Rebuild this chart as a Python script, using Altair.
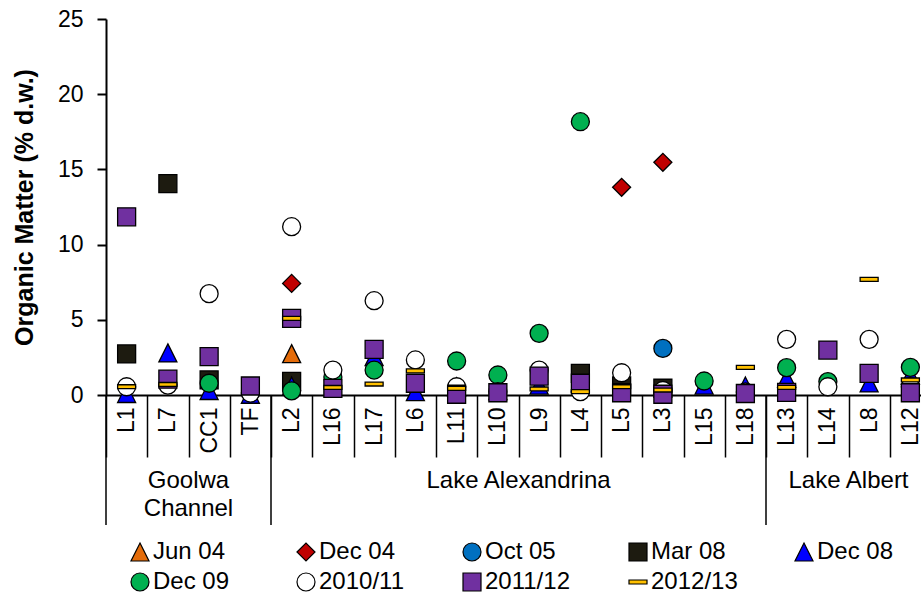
import altair as alt
import pandas as pd

FONT = "Liberation Sans"

sites = ["L1", "L7", "CC1", "TF", "L2", "L16", "L17", "L6", "L11", "L10",
         "L9", "L4", "L5", "L3", "L15", "L18", "L13", "L14", "L8", "L12"]

surveys = ["Jun 04", "Dec 04", "Oct 05", "Mar 08", "Dec 08",
           "Dec 09", "2010/11", "2011/12", "2012/13"]

# Organic matter (% dry weight) by survey and site
jun04 = {"L2": 2.75}
dec04 = {"L2": 7.42, "L5": 13.81, "L3": 15.47}
oct05 = {"L3": 3.1}
mar08 = {"L1": 2.73, "L7": 14.05, "CC1": 1.0, "L2": 0.9, "L4": 1.44,
         "L5": 0.6, "L3": 0.45}
dec08 = {"L1": 0.1, "L7": 2.8, "CC1": 0.3, "TF": 0.05, "L2": 0.6,
         "L17": 2.55, "L6": 0.22, "L11": 0.55, "L10": 0.3, "L9": 0.66,
         "L15": 0.66, "L18": 0.6, "L13": 1.1, "L8": 0.8, "L12": 1.3}
dec09 = {"CC1": 0.78, "L2": 0.27, "L16": 1.2, "L17": 1.66, "L11": 2.26,
         "L10": 1.33, "L9": 4.1, "L4": 18.17, "L15": 0.93, "L13": 1.82,
         "L14": 0.89, "L12": 1.84}
y2010 = {"L1": 0.55, "L7": 0.66, "CC1": 6.74, "TF": 0.13, "L2": 11.19,
         "L16": 1.66, "L17": 6.27, "L6": 2.33, "L11": 0.55, "L10": 0.22,
         "L9": 1.66, "L4": 0.22, "L5": 1.48, "L3": 0.3, "L18": 0.2,
         "L13": 3.7, "L14": 0.55, "L8": 3.7, "L12": 0.55}
y2011 = {"L1": 11.85, "L7": 1.05, "CC1": 2.55, "TF": 0.6, "L2": 5.1,
         "L16": 0.44, "L17": 3.04, "L6": 0.78, "L11": 0.05, "L10": 0.15,
         "L9": 1.26, "L4": 0.78, "L5": 0.15, "L3": 0.05, "L18": 0.1,
         "L13": 0.18, "L14": 2.99, "L8": 1.44, "L12": 0.15}
y2012 = {"L1": 0.55, "L7": 0.7, "L2": 5.1, "L16": 0.5, "L17": 0.73,
         "L6": 1.6, "L11": 0.44, "L9": 0.4, "L4": 0.22, "L5": 0.55,
         "L3": 0.33, "L18": 1.84, "L13": 0.51, "L8": 7.69, "L12": 1.0}

series = [jun04, dec04, oct05, mar08, dec08, dec09, y2010, y2011, y2012]

fills = ["#E46C0A", "#C00000", "#0070C0", "#1D1B10", "#0000FF",
         "#00B050", "#FFFFFF", "#7030A0", "#FFC000"]
TRIANGLE = "M0,-1L1,1L-1,1Z"
DASH = "M-1,-0.22L1,-0.22L1,0.22L-1,0.22Z"
shapes = [TRIANGLE, "diamond", "circle", "square", TRIANGLE,
          "circle", "circle", "square", DASH]
sizes = [324, 324, 196, 196, 324, 196, 324, 196, 324]

# Site groupings shown beneath the category labels
group_names = ["Goolwa\nChannel", "Lake Alexandrina", "Lake Albert"]
group_starts = ["L1", "L2", "L13"]
group_centres = ["CC1", "L9", "L8"]

rows = []
k = 0
for name, values in zip(surveys, series):
    for site in sites:
        if site in values:
            rows.append({"site": site, "survey": name, "om": values[site], "k": k})
            k += 1
points_df = pd.DataFrame(rows)

x_scale = alt.Scale(domain=sites, range=[0, 825], paddingInner=0, paddingOuter=0)
y_scale = alt.Scale(domain=[0, 25], nice=False)

x_axis = alt.Axis(labelAngle=270, labelAlign="right", labelBaseline="middle",
                  labelFontSize=23, labelFont=FONT, labelColor="black",
                  labelPadding=-50, tickBand="extent", tickSize=62,
                  tickWidth=1.5, tickColor="black", domainWidth=2,
                  domainColor="black", grid=False)

survey_legend = alt.Legend(
    title=None, orient="none", legendX=22, legendY=521, columns=5,
    direction="horizontal", symbolSize=130, symbolStrokeColor="black",
    symbolStrokeWidth=1.2, labelFont=FONT, labelFontSize=24, labelColor="black",
    labelOffset=1, columnPadding=54, rowPadding=6, gridAlign="all", padding=0,
)

points = alt.Chart(points_df).transform_calculate(
    marker="datum.survey"
).mark_point(
    filled=True, opacity=1, stroke="black", strokeWidth=1.3
).encode(
    x=alt.X("site:N", scale=x_scale, sort=sites, title=None, axis=x_axis),
    y=alt.Y("om:Q", scale=y_scale,
            axis=alt.Axis(values=[0, 5, 10, 15, 20, 25], tickSize=9, tickWidth=2,
                          tickColor="black", domainWidth=2, domainColor="black",
                          labelFontSize=23, labelFont=FONT, labelColor="black",
                          labelPadding=14, grid=False,
                          title="Organic Matter (% d.w.)", titleFontSize=25,
                          titleFont=FONT, titleFontWeight="bold", titleColor="black",
                          titleAngle=270, titleAlign="center", titleBaseline="middle",
                          titleX=-82, titleY=188)),
    color=alt.Color("survey:N", scale=alt.Scale(domain=surveys, range=fills),
                    legend=survey_legend),
    shape=alt.Shape("survey:N", scale=alt.Scale(domain=surveys, range=shapes),
                    legend=survey_legend),
    size=alt.Size("marker:N", scale=alt.Scale(domain=surveys, range=sizes), legend=None),
    order=alt.Order("k:Q"),
)

dividers = alt.Chart(pd.DataFrame({"site": group_starts})).mark_rule(
    color="black", strokeWidth=1.5
).encode(
    x=alt.X("site:N", bandPosition=0, scale=x_scale, sort=sites, title=None, axis=x_axis),
    y=alt.value(376),
    y2=alt.value(506),
)

group_labels = alt.Chart(pd.DataFrame({"site": group_centres, "name": group_names})).mark_text(
    font=FONT, fontSize=24, color="black", align="center", baseline="top",
    lineBreak="\n", lineHeight=28
).encode(
    x=alt.X("site:N", bandPosition=0, scale=x_scale, sort=sites, title=None, axis=x_axis),
    y=alt.value(450),
    text="name:N",
)

chart = alt.layer(points, dividers, group_labels).properties(
    width=815,
    height=376,
    autosize=alt.AutoSizeParams(type="none"),
    padding={"left": 106, "top": 19, "right": 0, "bottom": 202},
).configure_view(
    stroke=None
)

chart.save("out.html", embed_options={"renderer": "svg", "actions": False})
